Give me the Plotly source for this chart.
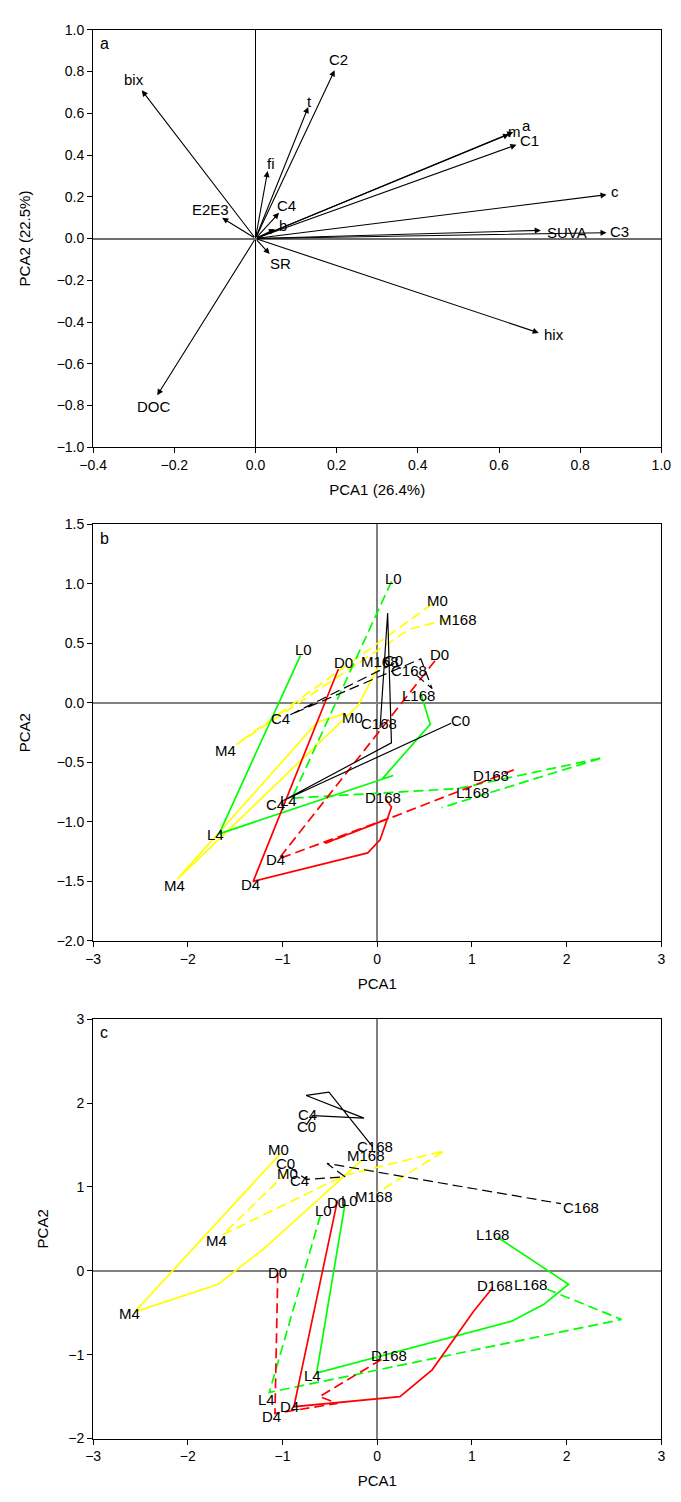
import plotly.graph_objects as go

FONT = "Liberation Sans, Arial, sans-serif"
W, H = 681, 1502

# ---------------- panel a: variable loadings ----------------
VARS = ["bix", "C2", "t", "fi", "m", "a", "C1", "c", "SUVA", "C3",
        "hix", "DOC", "E2E3", "C4", "b", "SR"]
LOAD_PC1 = [-0.28, 0.195, 0.13, 0.03, 0.625, 0.635, 0.643, 0.865, 0.703, 0.865,
            0.698, -0.242, -0.082, 0.058, 0.048, 0.035]
LOAD_PC2 = [0.71, 0.806, 0.63, 0.323, 0.50, 0.51, 0.449, 0.21, 0.039, 0.028,
            -0.452, -0.751, 0.099, 0.123, 0.045, -0.074]

# pixel offsets of each loading name from its arrow tip
VAR_SHIFT = {"bix": (-8, 11), "C2": (4, 11), "t": (1, 6), "fi": (3, 8),
             "m": (5, 3), "a": (13, 7), "C1": (13, 4), "c": (8, 3),
             "SUVA": (26, -2), "C3": (13, 1), "hix": (15, -2), "DOC": (-3, -11),
             "E2E3": (-12, 8), "C4": (7, 7), "b": (8, 4), "SR": (11, -10)}

# ---------------- panel b: sample trajectories (PCA1, PCA2) ----------------
B_C_SOLID = [(0.78, -0.17), (-0.99, -0.82), (0.15, -0.335), (0.11, 0.756), (0.03, -0.21)]
B_C_DASH = [(0.17, 0.33), (-0.92, -0.10), (0.46, 0.37), (0.58, 0.12), (0.36, 0.27)]
B_D_SOLID = [(-0.41, 0.285), (-1.31, -1.50), (-0.10, -1.26), (0.03, -1.15), (0.15, -0.875), (0.09, -0.81)]
B_D_DASH = [(0.61, 0.355), (-1.04, -1.31), (0.12, -0.97), (-0.55, -1.18), (1.45, -0.56)]
B_L_SOLID = [(-0.81, 0.40), (-1.67, -1.10), (0.17, -0.61), (0.05, -0.64), (0.56, -0.18), (0.46, 0.08)]
B_L_DASH = [(0.15, 1.02), (-0.90, -0.80), (0.85, -0.72), (2.38, -0.46), (0.68, -0.88)]
B_M_SOLID = [(-0.34, -0.09), (-0.63, -0.16), (-2.11, -1.48), (-0.20, -0.02), (-0.02, 0.26), (0.03, 0.32)]
B_M_DASH = [(0.58, 0.83), (-1.49, -0.35), (0.34, 0.62), (0.84, 0.72)]

# ---------------- panel c: sample trajectories (PCA1, PCA2) ----------------
C_C_SOLID = [(-0.75, 1.74), (-0.68, 1.85), (-0.14, 1.82), (-0.75, 2.09), (-0.51, 2.13), (-0.05, 1.48)]
C_C_DASH = [(-0.93, 1.24), (-0.75, 1.09), (-0.34, 1.12), (-0.53, 1.28), (1.94, 0.80)]
C_D_SOLID = [(-0.42, 0.84), (-0.88, -1.62), (0.24, -1.50), (0.58, -1.18), (1.02, -0.48), (1.22, -0.20)]
C_D_DASH = [(-1.05, -0.03), (-1.08, -1.70), (-0.42, -1.58), (-0.61, -1.50), (0.07, -1.04)]
C_L_SOLID = [(-0.34, 0.80), (-0.64, -1.22), (1.42, -0.60), (1.76, -0.40), (2.02, -0.16), (1.27, 0.40)]
C_L_DASH = [(-0.60, 0.66), (-1.14, -1.45), (2.58, -0.58), (1.75, -0.20)]
C_M_SOLID = [(-1.02, 1.40), (-2.56, -0.49), (-1.68, -0.16), (-1.19, 0.27), (-0.15, 1.33)]
C_M_DASH = [(-0.95, 1.18), (-1.63, 0.43), (-0.34, 1.14), (0.71, 1.43), (0.0, 0.93)]

# sampling times written next to the labelled points of each path
TIMES = ["0", "4", "168"]

COLORS = {"C": "#000000", "D": "#ff0000", "L": "#00ff00", "M": "#ffff00"}

# (group, dashed, points, indices of the 0/4/168 points, label pixel offsets)
PANEL_B = [
    ("M", False, B_M_SOLID, [0, 2, -1], [(7, -4), (-3, -6), (0, 3)]),
    ("M", True, B_M_DASH, [0, 1, -1], [(5, 4), (-11, -6), (1, -2)]),
    ("L", False, B_L_SOLID, [0, 1, -1], [(3, 6), (-4, -1), (-2, -2)]),
    ("L", True, B_L_DASH, [0, 1, -1], [(2, 3), (-3, -2), (31, 15)]),
    ("D", False, B_D_SOLID, [0, 1, -1], [(5, 7), (-3, -3), (-3, 2)]),
    ("D", True, B_D_DASH, [0, 1, -1], [(4, 6), (-3, -1), (-24, -6)]),
    ("C", False, B_C_SOLID, [0, 1, -1], [(9, 3), (-8, -4), (-1, 4)]),
    ("C", True, B_C_DASH, [0, 1, -1], [(0, 3), (-10, -4), (-2, 0)]),
]
PANEL_C = [
    ("M", False, C_M_SOLID, [0, 1, -1], [(-2, 4), (-5, -2), (3, 4)]),
    ("M", True, C_M_DASH, [0, 1, -1], [(0, -2), (-6, -6), (-3, -4)]),
    ("L", False, C_L_SOLID, [0, 1, -1], [(4, 3), (-4, -2), (-5, 3)]),
    ("L", True, C_L_DASH, [0, 1, -1], [(3, 5), (-3, -7), (-12, 3)]),
    ("D", False, C_D_SOLID, [0, 1, -1], [(-1, -2), (-4, 0), (2, 2)]),
    ("D", True, C_D_DASH, [0, 1, -1], [(0, 1), (-3, -3), (5, 3)]),
    ("C", False, C_C_SOLID, [0, 1, -1], [(0, -2), (-5, 1), (2, 0)]),
    ("C", True, C_C_DASH, [0, 1, -1], [(-4, 3), (-7, -1), (20, -4)]),
]

LABEL_FONT = dict(family=FONT, size=15, color="black")

fig = go.Figure()
annotations = []

# loading arrows from the origin
for name, px, py in zip(VARS, LOAD_PC1, LOAD_PC2):
    annotations.append(dict(
        x=px, y=py, ax=0, ay=0, xref="x", yref="y", axref="x", ayref="y",
        text="", showarrow=True, arrowhead=2, arrowsize=1.1, arrowwidth=1.1,
        arrowcolor="black", standoff=0, startstandoff=0))
    dx, dy = VAR_SHIFT[name]
    annotations.append(dict(
        x=px, y=py, xref="x", yref="y", text=name, showarrow=False,
        xshift=dx, yshift=dy, font=LABEL_FONT))


def add_paths(panel, xa, ya):
    for group, dashed, pts, idx, shifts in panel:
        xs = [p[0] for p in pts]
        ys = [p[1] for p in pts]
        fig.add_trace(go.Scatter(
            x=xs, y=ys, mode="lines", xaxis=xa, yaxis=ya, showlegend=False,
            hoverinfo="skip",
            line=dict(color=COLORS[group], width=1.7 if group != "C" else 1.2,
                      dash="10px,5px" if dashed else "solid")))
        for t, i, (dx, dy) in zip(TIMES, idx, shifts):
            annotations.append(dict(
                x=xs[i], y=ys[i], xref=xa, yref=ya,
                text=group + t, showarrow=False, xshift=dx, yshift=dy,
                font=LABEL_FONT))


add_paths(PANEL_B, "x2", "y2")
add_paths(PANEL_C, "x3", "y3")

# panel letters
for letter, xr, yr in (("a", "x", "y"), ("b", "x2", "y2"), ("c", "x3", "y3")):
    annotations.append(dict(
        x=0.008, y=0.992, xref=xr + " domain", yref=yr + " domain", text=letter,
        showarrow=False, xanchor="left", yanchor="top",
        font=dict(family=FONT, size=16, color="black")))


def dom(top, bottom):
    return [1 - bottom / H, 1 - top / H]


XDOM = [82 / W, 671 / W]
axis_common = dict(showline=True, linecolor="black", linewidth=1, mirror=True,
                   ticks="outside", ticklen=5, tickcolor="black", showgrid=False,
                   tickfont=dict(family=FONT, size=14, color="black"))
title_font = dict(family=FONT, size=15, color="black")

fig.update_layout(
    width=W, height=H, paper_bgcolor="white", plot_bgcolor="white",
    margin=dict(l=0, r=0, t=0, b=0), showlegend=False,
    annotations=annotations,
    xaxis=dict(domain=XDOM, anchor="y", range=[-0.4, 1.0], dtick=0.2, tickformat=".1f",
               zeroline=True, zerolinecolor="black", zerolinewidth=1,
               title=dict(text="PCA1 (26.4%)", font=title_font, standoff=12), **axis_common),
    yaxis=dict(domain=dom(22, 444), anchor="x", range=[-1.0, 1.0], dtick=0.2, tickformat=".1f",
               zeroline=True, zerolinecolor="#6e6e6e", zerolinewidth=1.5,
               title=dict(text="PCA2 (22.5%)", font=title_font, standoff=22), **axis_common),
    xaxis2=dict(domain=XDOM, anchor="y2", range=[-3, 3], dtick=1,
                zeroline=True, zerolinecolor="#808080", zerolinewidth=1.5,
                title=dict(text="PCA1", font=title_font, standoff=12), **axis_common),
    yaxis2=dict(domain=dom(522, 943), anchor="x2", range=[-2.0, 1.5], dtick=0.5, tickformat=".1f",
                zeroline=True, zerolinecolor="#808080", zerolinewidth=1.5,
                title=dict(text="PCA2", font=title_font, standoff=22), **axis_common),
    xaxis3=dict(domain=XDOM, anchor="y3", range=[-3, 3], dtick=1,
                zeroline=True, zerolinecolor="#808080", zerolinewidth=1.5,
                title=dict(text="PCA1", font=title_font, standoff=12), **axis_common),
    yaxis3=dict(domain=dom(1022, 1446), anchor="x3", range=[-2, 3], dtick=1,
                zeroline=True, zerolinecolor="#808080", zerolinewidth=1.5,
                title=dict(text="PCA2", font=title_font, standoff=16), **axis_common),
)

fig.write_html("out.html")
